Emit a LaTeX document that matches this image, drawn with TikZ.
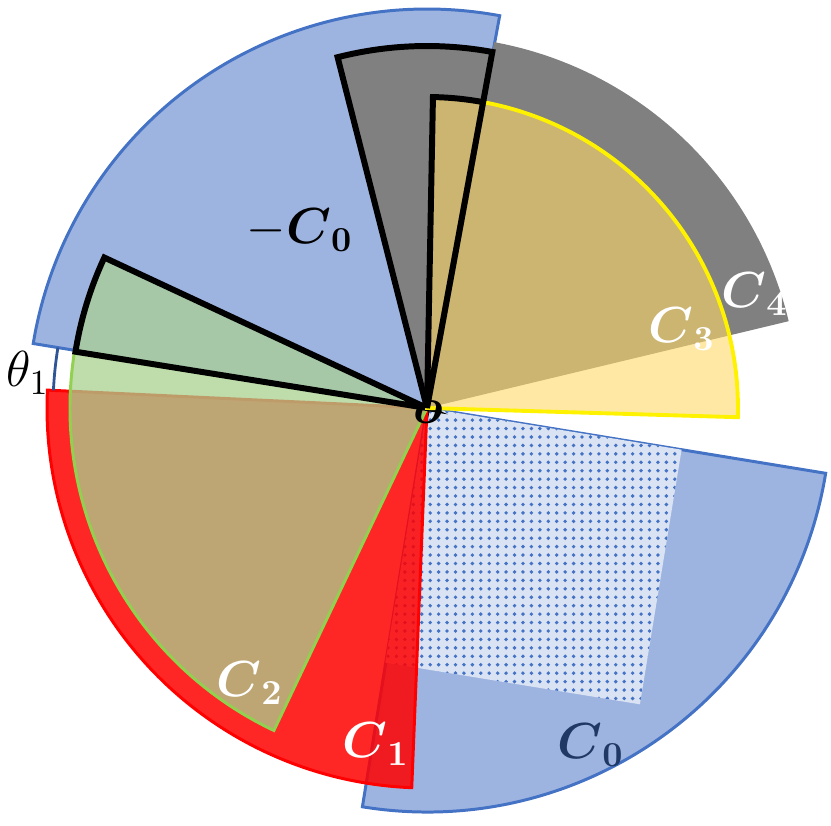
\documentclass[tikz,border=0pt]{standalone}
\usepackage{amsmath}
\usetikzlibrary{patterns.meta}

\definecolor{coneblue}{HTML}{94ACDD}
\definecolor{edgeblue}{HTML}{4472C4}
\definecolor{paleblue}{HTML}{DAE3F3}
\definecolor{leafgreen}{HTML}{A9D18E}
\definecolor{limegreen}{HTML}{92D050}
\definecolor{sandyellow}{HTML}{FFD966}
\definecolor{darknavy}{HTML}{1F3864}
\definecolor{arcblue}{HTML}{2F5597}

\tikzdeclarepattern{name=finedots, type=uncolored,
    bounding box={(-1.2pt,-1.2pt) and (1.2pt,1.2pt)}, tile size={(2.4pt,2.4pt)},
    code={\fill (0,0) circle (0.55pt);}}

\begin{document}
\begin{tikzpicture}[every node/.append style={font=\fontsize{14}{17}\selectfont, inner sep=0pt}]
    \useasboundingbox (-4.27, -4.17) rectangle (4.04, 4.08);
    \coordinate (o) at (0, 0);
    \begin{scope}[cone/.style={fill=coneblue, fill opacity=0.9, draw=edgeblue, line width=0.85pt},
        bold/.style={draw=black, line width=1.7pt}]

        % C_0 and its dotted square
        \filldraw[cone] (o) -- (-99.2:4.04) arc[start angle=-99.2, end angle=-9.3, radius=4.04] -- cycle;
        \path[fill=paleblue, postaction={pattern=finedots, pattern color=edgeblue}]
            (o) -- ++(-9.3:2.58) -- ++(-99.3:2.58) -- ++(170.7:2.58) -- cycle;
        % -C_0
        \filldraw[cone] (o) -- (79.5:3.99) arc[start angle=79.5, end angle=170.7, radius=3.99] -- cycle;

        % C_4 and the cut sector
        \fill[gray] (o) -- (13.5:3.72) arc[start angle=13.5, end angle=79.6, radius=3.72] -- cycle;
        \filldraw[bold, fill=gray] (o) -- (79.6:3.62) arc[start angle=79.6, end angle=104.3, radius=3.62] -- cycle;

        % C_1
        \filldraw[fill=red, fill opacity=0.85, draw=red, line width=0.85pt]
            (o) -- (177.3:3.80) arc[start angle=177.3, end angle=267.7, radius=3.80] -- cycle;
        % C_2
        \filldraw[fill=leafgreen, fill opacity=0.75, draw=limegreen, line width=0.85pt]
            (o) -- (170.9:3.57) arc[start angle=170.9, end angle=244.6, radius=3.57] -- cycle;
        \filldraw[bold, fill=leafgreen, fill opacity=0.7]
            (o) -- (155:3.56) arc[start angle=155, end angle=170.9, radius=3.56] -- cycle;

        % C_3
        \filldraw[fill=sandyellow, fill opacity=0.6, draw=yellow, line width=1.1pt]
            (o) -- (-1.7:3.11) arc[start angle=-1.7, end angle=88.9, radius=3.11] -- cycle;
        \draw[bold] (o) -- (79.6:3.11) arc[start angle=79.6, end angle=88.9, radius=3.11] -- cycle;

        % theta_1
        \draw[arcblue, line width=0.8pt] (170.7:3.74) arc[start angle=170.7, end angle=177.3, radius=3.74];

        \node[text=darknavy] (c0) at (1.64, -3.37) {$\boldsymbol{C}_{\boldsymbol{0}}$};
        \node[text=white] (c1) at (-0.51, -3.36) {$\boldsymbol{C}_{\boldsymbol{1}}$};
        \node[text=white] (c2) at (-1.77, -2.75) {$\boldsymbol{C}_{\boldsymbol{2}}$};
        \node[text=white] (c3) at (2.55, 0.79) {$\boldsymbol{C}_{\boldsymbol{3}}$};
        \node[text=white] (c4) at (3.28, 1.14) {$\boldsymbol{C}_{\boldsymbol{4}}$};
        \node (mc0) at (-1.27, 1.78) {$-\boldsymbol{C}_{\boldsymbol{0}}$};
        \node (th1) at (-3.99, 0.35) {$\theta_1$};
        \node (lo) at (0.01, -0.04) {$\boldsymbol{o}$};
    \end{scope}
\end{tikzpicture}
\end{document}
